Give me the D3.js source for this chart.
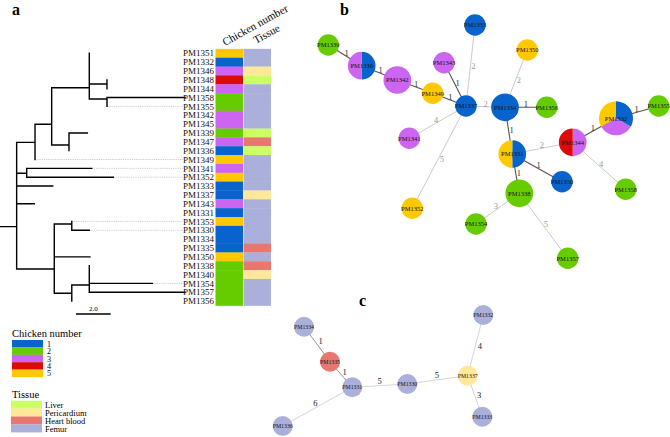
<!DOCTYPE html>
<html><head><meta charset="utf-8">
<script src="https://cdn.jsdelivr.net/npm/d3@7"></script>
<style>body{margin:0;background:#fff}svg{display:block}</style>
</head><body><svg id="chart" width="670" height="437" font-family="'Liberation Serif', 'DejaVu Serif', 'Times New Roman', serif"></svg>
<script>
// ---------- DATA ----------
const tipNames = ["PM1351","PM1332","PM1346","PM1348","PM1344","PM1358","PM1355","PM1342","PM1345","PM1339","PM1347","PM1336","PM1349","PM1341","PM1352","PM1333","PM1337","PM1343","PM1331","PM1353","PM1330","PM1334","PM1335","PM1350","PM1338","PM1340","PM1354","PM1357","PM1356"];
const tipChicken = [5,1,3,4,3,2,2,3,3,2,3,1,5,3,5,1,1,3,1,5,1,1,1,5,2,2,2,2,2];
const tipTissue = ["Femur","Femur","Pericardium","Liver","Femur","Femur","Femur","Femur","Femur","Liver","Heart blood","Liver","Femur","Femur","Femur","Femur","Pericardium","Femur","Femur","Femur","Femur","Femur","Heart blood","Femur","Heart blood","Pericardium","Femur","Femur","Femur"];
const tipParent = ["C","C","C","D","D","E","E","B","B","F","F","F","A","G","G","root","root","root","root","I","I","H","H","H","K","K","K","K","J"];
const tipDist = [5.15,5.15,5.15,6.17,6.17,10.67,6.17,2.98,2.98,5.04,3.98,3.98,2.02,5.29,6.54,3.04,0.96,1.98,0.96,4.14,5.15,3.13,3.13,5.19,5.15,5.15,8.79,10.67,4.14];
// internal nodes: id, parent, distance from origin, row position
const innerIds = ["root","A","B","C","D","E","F","G","H","I","J","K"];
const innerParent = [null,"root","A","B","C","C","B","root","root","H","H","J"];
const innerDist = [0.96,2.02,2.98,5.15,6.17,6.17,3.98,1.54,3.13,4.14,4.14,5.15];
const innerRow = [19.59,10.06,8.02,3.89,3.47,5.16,10.36,13.56,24.37,19.29,27.12,26.18];
const dottedTips = ["PM1355","PM1349","PM1341","PM1352","PM1353","PM1330","PM1354"];
const scaleBarValue = 2.0;

const chickenNumbers = [1,2,3,4,5];
const chickenColors = ["#0864cc","#66cc00","#cc66f2","#dd0a0a","#ffc800"];
const tissueNames = ["Liver","Pericardium","Heart blood","Femur"];
const tissueColors = ["#ccff66","#ffe89a","#e8776f","#aab0da"];

// panel b: minimum spanning tree by chicken number (layout coordinates)
const bNodeIds = ["PM1339","PM1336","PM1342","PM1343","PM1349","PM1337","PM1341","PM1333","PM1350","PM1334","PM1356","PM1332","PM1355","PM1344","PM1331","PM1330","PM1338","PM1354","PM1357","PM1352","PM1358"];
const bNodeX = [8.3,41.7,77.3,124,112.7,146,89.3,155,207.3,185,226.7,296,338.7,252.7,192.3,242,199.3,156,247.7,92.3,305.7];
const bNodeY = [30,50.7,65,47.7,78.3,91,123.3,10,35,92.3,92.3,103.3,91,127.3,139,166.7,178.3,209,243.3,193.3,174.3];
const bNodeChickens = [[2],[1,3],[3,3],[3],[5],[1],[3],[1],[5],[1,1],[2],[1,3,5],[2],[3,4],[1,5],[1],[2,2],[2],[2],[5],[2]];
const bEdges = [["PM1339","PM1336",1],["PM1336","PM1342",1],["PM1342","PM1349",1],["PM1349","PM1337",1],["PM1343","PM1337",1],["PM1337","PM1333",2],["PM1337","PM1334",2],["PM1337","PM1341",4],["PM1337","PM1352",5],["PM1334","PM1350",2],["PM1334","PM1356",1],["PM1334","PM1331",1],["PM1331","PM1344",2],["PM1331","PM1330",1],["PM1331","PM1338",1],["PM1344","PM1332",1],["PM1332","PM1355",1],["PM1344","PM1358",4],["PM1338","PM1354",3],["PM1338","PM1357",5]];

// panel c: minimum spanning tree by tissue (layout coordinates)
const cNodeIds = ["PM1334","PM1335","PM1331","PM1336","PM1330","PM1337","PM1332","PM1333"];
const cNodeX = [29,55,77.3,7.7,132.3,192.7,208.3,207.3];
const cNodeY = [26.7,61.7,87.3,126,84,75.7,15,116.7];
const cNodeTissue = ["Femur","Heart blood","Femur","Femur","Femur","Pericardium","Femur","Femur"];
const cEdges = [["PM1334","PM1335",1],["PM1335","PM1331",1],["PM1331","PM1330",5],["PM1330","PM1337",5],["PM1337","PM1332",4],["PM1337","PM1333",3],["PM1331","PM1336",6]];

// ---------- DRAW ----------
const svg = d3.select("#chart");
const chickenColor = d3.scaleOrdinal().domain(chickenNumbers).range(chickenColors);
const tissueColor = d3.scaleOrdinal().domain(tissueNames).range(tissueColors);

// panel letters
[["a",12,15],["b",340,15],["c",359,306]].forEach(([t,x,y])=>{
  svg.append("text").attr("x",x).attr("y",y).attr("font-size",16).attr("font-weight","bold").text(t);
});

// ---- Panel a: tree ----
const xT = d3.scaleLinear().domain([0,10.67]).range([0,185]);
const yT = d3.scaleLinear().domain([0,tipNames.length-1]).range([53.3,301.1]);
const rowH = yT(1)-yT(0);

const nodes = new Map();
innerIds.forEach((id,i)=>nodes.set(id,{id,parent:innerParent[i],dist:innerDist[i],row:innerRow[i]}));
tipNames.forEach((id,i)=>nodes.set(id,{id,parent:tipParent[i],dist:tipDist[i],row:i,tip:true}));

const gTree = svg.append("g");
// dotted alignment lines
tipNames.forEach((id,i)=>{
  if(dottedTips.includes(id)){
    const n = nodes.get(id);
    gTree.append("line").attr("x1",xT(n.dist)).attr("x2",184).attr("y1",yT(i)).attr("y2",yT(i))
      .attr("stroke","#b8b8b8").attr("stroke-width",0.7).attr("stroke-dasharray","1.2,1");
  }
});
const path = d3.path();
nodes.forEach(n=>{
  if(n.parent){
    const p = nodes.get(n.parent);
    path.moveTo(xT(p.dist), yT(p.row));
    path.lineTo(xT(p.dist), yT(n.row));
    path.lineTo(xT(n.dist), yT(n.row));
  } else {
    path.moveTo(xT(0), yT(n.row));
    path.lineTo(xT(n.dist), yT(n.row));
  }
});
gTree.append("path").attr("d",path.toString()).attr("fill","none").attr("stroke","#000").attr("stroke-width",1.4).attr("stroke-linecap","square");

// tip labels
gTree.selectAll("text.tip").data(tipNames).join("text")
  .attr("x",214).attr("y",(d,i)=>yT(i)).attr("dy","0.35em")
  .attr("text-anchor","end").attr("font-size",9).attr("fill","#111").text(d=>d);

// color columns
const colX = [215.5, 243.5], colW = 27.5;
gTree.selectAll("rect.ch").data(tipChicken).join("rect")
  .attr("x",colX[0]).attr("y",(d,i)=>yT(i)-rowH/2).attr("width",colW).attr("height",rowH+0.3)
  .attr("fill",d=>chickenColor(d));
gTree.selectAll("rect.ti").data(tipTissue).join("rect")
  .attr("x",colX[1]).attr("y",(d,i)=>yT(i)-rowH/2).attr("width",colW).attr("height",rowH+0.3)
  .attr("fill",d=>tissueColor(d));
gTree.append("text").attr("transform","translate(225,46) rotate(-29)").attr("font-size",11).text("Chicken number");
gTree.append("text").attr("transform","translate(256,44) rotate(-29)").attr("font-size",11).text("Tissue");

// scale bar
const sbx = 76;
gTree.append("line").attr("x1",sbx).attr("x2",sbx+xT(scaleBarValue)-xT(0)).attr("y1",314).attr("y2",314).attr("stroke","#000").attr("stroke-width",1.5);
gTree.append("text").attr("x",sbx+(xT(scaleBarValue)-xT(0))/2).attr("y",311).attr("text-anchor","middle").attr("font-size",7).text(scaleBarValue.toFixed(1));

// legends
const gL = svg.append("g");
gL.append("text").attr("x",12).attr("y",337).attr("font-size",10.5).text("Chicken number");
chickenNumbers.forEach((c,i)=>{
  gL.append("rect").attr("x",12).attr("y",340+i*7.4).attr("width",31).attr("height",7.5).attr("fill",chickenColor(c));
  gL.append("text").attr("x",47).attr("y",340+i*7.4+3.9).attr("dy","0.35em").attr("font-size",8).text(c);
});
gL.append("text").attr("x",12).attr("y",397.5).attr("font-size",10.5).text("Tissue");
tissueNames.forEach((t,i)=>{
  gL.append("rect").attr("x",11).attr("y",400.7+i*7.9).attr("width",31).attr("height",8).attr("fill",tissueColor(t));
  gL.append("text").attr("x",45).attr("y",400.7+i*7.9+4.6).attr("dy","0.35em").attr("font-size",8.5).text(t);
});

// ---- helper for edge labels ----
function labelPos(a,b,off){
  const dx=b[0]-a[0], dy=b[1]-a[1], L=Math.hypot(dx,dy);
  let nx=dy/L, ny=-dx/L;
  if(nx-ny<0){nx=-nx;ny=-ny;}
  return [(a[0]+b[0])/2+nx*off,(a[1]+b[1])/2+ny*off];
}

// ---- Panel b ----
const xB = d3.scaleLinear().domain([0,100]).range([320,420]);
const yB = d3.scaleLinear().domain([0,100]).range([15,115]);
const rB = d3.scaleLinear().domain([1,3]).range([10.7,17]);
const bPos = new Map(bNodeIds.map((id,i)=>[id,[xB(bNodeX[i]),yB(bNodeY[i])]]));
const gB = svg.append("g");
bEdges.forEach(([s,t,w])=>{
  const a=bPos.get(s), b=bPos.get(t);
  gB.append("line").attr("x1",a[0]).attr("y1",a[1]).attr("x2",b[0]).attr("y2",b[1])
    .attr("stroke",w===1?"#555":"#c4c4c4").attr("stroke-width",w===1?1.1:0.9);
});
bEdges.forEach(([s,t,w])=>{
  const p = labelPos(bPos.get(s),bPos.get(t),3);
  gB.append("text").attr("x",p[0]).attr("y",p[1]).attr("dy","0.35em").attr("text-anchor","middle")
    .attr("font-size",8.5).attr("fill",w===1?"#333":"#999").text(w);
});
const pie = d3.pie().sort(null).value(d=>d[1]);
bNodeIds.forEach((id,i)=>{
  const [cx,cy]=bPos.get(id);
  const counts = d3.rollups(bNodeChickens[i],v=>v.length,d=>d).sort((a,b)=>a[0]-b[0]);
  const r = rB(bNodeChickens[i].length);
  const g = gB.append("g").attr("transform",`translate(${cx},${cy})`);
  const arc = d3.arc().innerRadius(0).outerRadius(r);
  g.selectAll("path").data(pie(counts)).join("path").attr("d",arc).attr("fill",d=>chickenColor(d.data[0]));
  g.append("text").attr("text-anchor","middle").attr("dy","0.35em").attr("font-size",6.5).attr("fill","#111").text(id);
});

// ---- Panel c ----
const xC = d3.scaleLinear().domain([0,100]).range([275,375]);
const yC = d3.scaleLinear().domain([0,100]).range([300,400]);
const cPos = new Map(cNodeIds.map((id,i)=>[id,[xC(cNodeX[i]),yC(cNodeY[i])]]));
const gC = svg.append("g");
cEdges.forEach(([s,t,w])=>{
  const a=cPos.get(s), b=cPos.get(t);
  gC.append("line").attr("x1",a[0]).attr("y1",a[1]).attr("x2",b[0]).attr("y2",b[1])
    .attr("stroke",w===1?"#888":"#cfcfcf").attr("stroke-width",0.9);
});
cEdges.forEach(([s,t,w])=>{
  const p = labelPos(cPos.get(s),cPos.get(t),4.5);
  gC.append("text").attr("x",p[0]).attr("y",p[1]).attr("dy","0.35em").attr("text-anchor","middle")
    .attr("font-size",8.5).attr("fill","#222").text(w);
});
cNodeIds.forEach((id,i)=>{
  const [cx,cy]=cPos.get(id);
  gC.append("circle").attr("cx",cx).attr("cy",cy).attr("r",10).attr("fill",tissueColor(cNodeTissue[i]));
  gC.append("text").attr("x",cx).attr("y",cy).attr("dy","0.35em").attr("text-anchor","middle").attr("font-size",5.8).attr("fill","#111").text(id);
});
</script></body></html>
